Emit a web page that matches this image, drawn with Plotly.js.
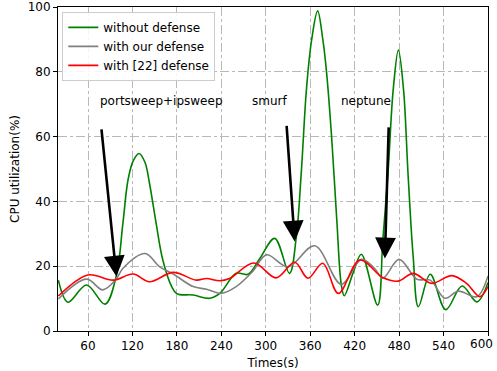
<!DOCTYPE html>
<html>
<head>
<meta charset="utf-8">
<script src="https://cdn.plot.ly/plotly-3.0.1.min.js"></script>
<style>html,body{margin:0;padding:0;background:#fff;}#chart{width:497px;height:371px;}</style>
</head>
<body>
<div id="chart"></div>
<script>
// ---- data ----
const seriesNames = ['without defense', 'with our defense', 'with [22] defense'];

const tWithout = [20, 33, 58, 83, 98, 107, 114, 121, 129, 137, 143, 152, 161, 173, 180, 202, 224, 238, 260, 276, 292, 312, 332, 341, 348, 355, 362, 370, 377, 382, 389, 396, 402, 406, 418, 429, 451, 458, 465, 472, 479, 486, 492, 499, 506, 522, 543, 565, 585, 600];
const cpuWithout = [15.7, 8.9, 14.2, 8.3, 16.8, 33, 46.6, 52.5, 54.8, 52, 45.6, 33.2, 21.9, 13.7, 11.5, 11.1, 10.1, 11.6, 17.8, 17.5, 22.4, 28.6, 17.8, 28.6, 49.2, 74.9, 90, 98.8, 90, 80, 59.5, 33.7, 14.2, 10.9, 18, 23.7, 8, 28, 48.7, 74.4, 86.7, 74.4, 48.7, 22.9, 7.5, 17.5, 6.6, 13.9, 9, 15];

const tOurs = [20, 58, 80, 98, 107, 137, 157, 175, 202, 220, 240, 260, 282, 301, 330, 366, 402, 429, 447, 458, 480, 504, 522, 542, 560, 585, 600];
const cpuOurs = [9.9, 16, 12.7, 16, 19.3, 23.9, 19.8, 17.6, 13.7, 12.9, 11.6, 13.7, 18.3, 23.5, 19.8, 26.3, 14.4, 22.1, 19.3, 16.3, 22.1, 16, 15.7, 10.1, 12.3, 10.6, 17];

const tRef22 = [20, 60, 94, 121, 143, 175, 206, 220, 238, 251, 284, 314, 339, 357, 377, 398, 427, 458, 479, 499, 524, 551, 571, 589, 600];
const cpuRef22 = [10.8, 17.3, 15.7, 17.6, 15.2, 18.1, 15.7, 16.2, 15.5, 16.2, 21, 16.4, 21.2, 16.3, 20.9, 11.6, 21.9, 16.5, 15.4, 17.8, 14.7, 17.1, 14.7, 10.6, 13.7];

const xTickVals = [60, 120, 180, 240, 300, 360, 420, 480, 540, 600];
const yTickVals = [0, 20, 40, 60, 80, 100];

const attackLabels = ['portsweep+ipsweep', 'smurf', 'neptune'];

// ---- styling / placement (not data) ----
const colors = ['#008000', '#808080', '#ff0000'];
const labelPos = [[74, 71], [279, 71], [399, 71]];
const arrowTail = [[78, 62.7], [328, 63.8], [466, 63.3]];
const arrowTip = [[98.4, 16.8], [339, 27.6], [460.8, 22.4]];

const font = {family: 'DejaVu Sans, sans-serif', size: 12, color: '#000'};

const xs = [tWithout, tOurs, tRef22];
const ys = [cpuWithout, cpuOurs, cpuRef22];
const traces = seriesNames.map((n, i) => ({
  x: xs[i], y: ys[i], name: n, type: 'scatter', mode: 'lines',
  line: {color: colors[i], width: 1.6, shape: 'spline', smoothing: 1}
}));

const annotations = [];
attackLabels.forEach((lab, i) => {
  annotations.push({
    x: labelPos[i][0], y: labelPos[i][1], xref: 'x', yref: 'y',
    text: lab, showarrow: false, xanchor: 'left', yanchor: 'middle', font: font
  });
  annotations.push({
    x: arrowTip[i][0], y: arrowTip[i][1], xref: 'x', yref: 'y',
    ax: arrowTail[i][0], ay: arrowTail[i][1], axref: 'x', ayref: 'y',
    text: '', showarrow: true, arrowhead: 2, arrowsize: 1.6, arrowwidth: 2.6,
    arrowcolor: '#000', standoff: 0, startstandoff: 0
  });
});
// last x tick label (plotly hides it because it overflows the page edge)
const lastTick = xTickVals[xTickVals.length - 1];
annotations.push({
  x: 1, y: 0, xref: 'paper', yref: 'paper', text: String(lastTick),
  showarrow: false, xanchor: 'right', yanchor: 'top', xshift: 7, yshift: -4, font: font
});

const layout = {
  width: 497, height: 371,
  margin: {l: 58, r: 9, t: 7, b: 40},
  paper_bgcolor: '#fff', plot_bgcolor: '#fff',
  font: font,
  showlegend: true,
  legend: {x: 0.01, y: 0.985, xanchor: 'left', yanchor: 'top',
           bgcolor: 'rgba(255,255,255,0.85)', bordercolor: '#cccccc', borderwidth: 1,
           font: font, itemwidth: 30, tracegroupgap: 0},
  xaxis: {
    range: [19.5, 600], tickvals: xTickVals, ticktext: xTickVals.map(String),
    showgrid: true, gridcolor: '#b8b8b8', griddash: 'dashdot', gridwidth: 1,
    showline: true, linecolor: '#000', linewidth: 1, mirror: true,
    ticks: 'outside', ticklen: 4, tickcolor: '#000', zeroline: false,
    tickfont: font, title: {text: 'Times(s)', font: font, standoff: 6}
  },
  yaxis: {
    range: [0, 100], tickvals: yTickVals,
    showgrid: true, gridcolor: '#b8b8b8', griddash: 'dashdot', gridwidth: 1,
    showline: true, linecolor: '#000', linewidth: 1, mirror: true,
    ticks: 'outside', ticklen: 4, tickcolor: '#000', zeroline: false,
    tickfont: font, title: {text: 'CPU utilization(%)', font: font, standoff: 5}
  },
  annotations: annotations
};

Plotly.newPlot('chart', traces, layout, {displayModeBar: false, staticPlot: true});
</script>
</body>
</html>
